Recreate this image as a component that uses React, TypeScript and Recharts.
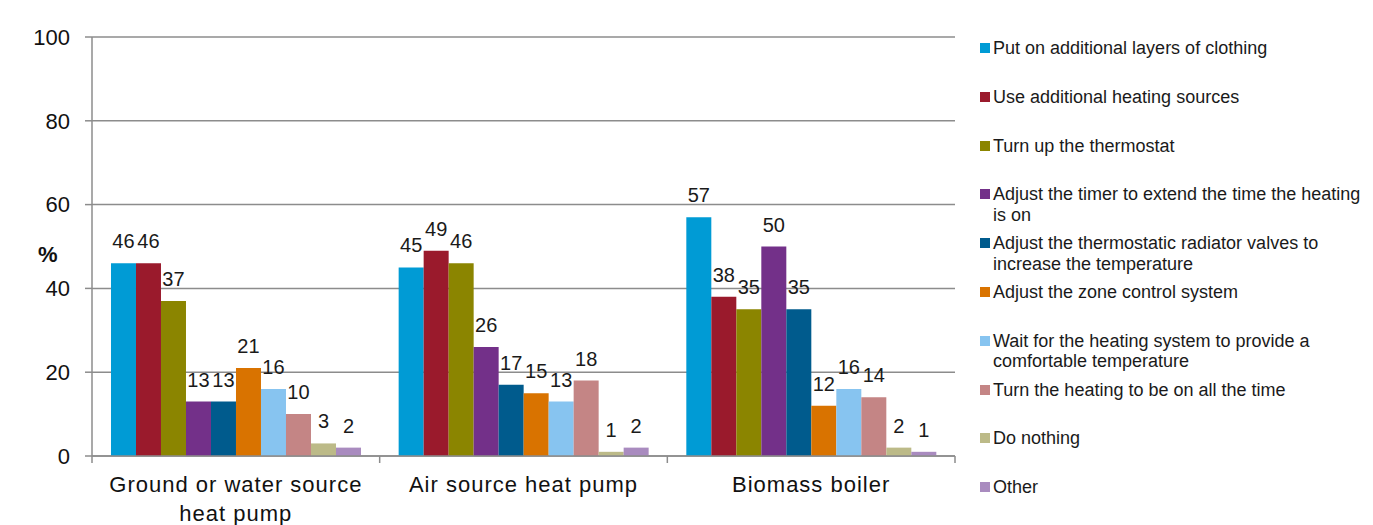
import React from 'react';
import {
  BarChart,
  Bar,
  XAxis,
  YAxis,
  CartesianGrid,
  LabelList,
} from 'recharts';

const categories = ['Ground or water source heat pump', 'Air source heat pump', 'Biomass boiler'];

const seriesNames = [
  'Put on additional layers of clothing',
  'Use additional heating sources',
  'Turn up the thermostat',
  'Adjust the timer to extend the time the heating is on',
  'Adjust the thermostatic radiator valves to increase the temperature',
  'Adjust the zone control system',
  'Wait for the heating system to provide a comfortable temperature',
  'Turn the heating to be on all the time',
  'Do nothing',
  'Other',
];

// one array per category, in series order
const groundValues = [46, 46, 37, 13, 13, 21, 16, 10, 3, 2];
const airValues = [45, 49, 46, 26, 17, 15, 13, 18, 1, 2];
const biomassValues = [57, 38, 35, 50, 35, 12, 16, 14, 2, 1];

const yTicks = [0, 20, 40, 60, 80, 100];

const colors = [
  '#009bd5',
  '#9a1a2c',
  '#8b8500',
  '#733089',
  '#005b8d',
  '#d97300',
  '#87c4f0',
  '#c48585',
  '#bcba88',
  '#a98bbf',
];

const FONT = '"Liberation Sans", Arial, sans-serif';
const GRID = '#8c8c8c';

const valueRows = [groundValues, airValues, biomassValues];
const data = categories.map((name, i) => {
  const row: Record<string, string | number> = { name };
  seriesNames.forEach((s, j) => {
    row[`s${j}`] = valueRows[i][j];
  });
  return row;
});

// simple word wrap by character budget
const wrapWords = (text: string, maxChars: number) => {
  const lines: string[] = [];
  let cur = '';
  text.split(' ').forEach((w) => {
    const next = cur ? `${cur} ${w}` : w;
    if (next.length > maxChars && cur) {
      lines.push(cur);
      cur = w;
    } else {
      cur = next;
    }
  });
  if (cur) lines.push(cur);
  return lines;
};

const CategoryTick = (props: any) => {
  const { x, y, payload, index, visibleTicksCount } = props;
  const half = payload.offset ?? 0;
  const isLast = index === visibleTicksCount - 1;
  const lines = wrapWords(String(payload.value), 24);
  return (
    <g>
      <line x1={x - half} x2={x - half} y1={y} y2={y + 7} stroke={GRID} strokeWidth={1.5} />
      {isLast && (
        <line x1={x + half} x2={x + half} y1={y} y2={y + 7} stroke={GRID} strokeWidth={1.5} />
      )}
      <text
        x={x}
        y={y + 36}
        textAnchor="middle"
        fill="#111"
        style={{ fontSize: 22, letterSpacing: 1, fontFamily: FONT }}
      >
        {lines.map((l, k) => (
          <tspan key={k} x={x} dy={k === 0 ? 0 : 29}>
            {l}
          </tspan>
        ))}
      </text>
    </g>
  );
};

const LegendBox = () => (
  <div
    style={{
      position: 'absolute',
      left: 980,
      top: 38,
      width: 390,
      fontFamily: FONT,
      fontSize: 18,
      color: '#1a1a1a',
    }}
  >
    {seriesNames.map((name, i) => (
      <div key={name} style={{ display: 'flex', height: 48.8 }}>
        <div
          style={{
            width: 10,
            height: 10,
            marginTop: 5,
            marginRight: 3,
            background: colors[i],
            flex: 'none',
          }}
        />
        <div style={{ width: 375, lineHeight: '20.5px' }}>{name}</div>
      </div>
    ))}
  </div>
);

export default function App() {
  return (
    <div
      style={{
        position: 'absolute',
        left: 0,
        top: 0,
        width: 1373,
        height: 525,
        background: '#fff',
      }}
    >
      <BarChart
        width={1373}
        height={525}
        data={data}
        margin={{ top: 37, right: 418, bottom: 9, left: 30 }}
        barCategoryGap="6.6%"
        barGap={0}
      >
        <CartesianGrid vertical={false} stroke={GRID} strokeWidth={1.5} />
        <XAxis
          dataKey="name"
          height={60}
          axisLine={{ stroke: GRID, strokeWidth: 1.5 }}
          tickLine={false}
          tickSize={0}
          tickMargin={0}
          interval={0}
          tick={<CategoryTick />}
        />
        <YAxis
          width={62}
          domain={[0, 100]}
          ticks={yTicks}
          interval={0}
          axisLine={{ stroke: GRID, strokeWidth: 1.5 }}
          tickLine={{ stroke: GRID, strokeWidth: 1.5 }}
          tickSize={7}
          tickMargin={15}
          tick={{ fontSize: 22, fill: '#111', fontFamily: FONT }}
          label={{
            value: '%',
            position: 'insideLeft',
            offset: 8,
            dy: 8,
            style: { fontSize: 22, fontWeight: 'bold', fill: '#111', fontFamily: FONT },
          }}
        />
        {seriesNames.map((name, j) => (
          <Bar key={name} dataKey={`s${j}`} name={name} fill={colors[j]} isAnimationActive={false}>
            <LabelList
              dataKey={`s${j}`}
              position="top"
              offset={15}
              style={{ fontSize: 20, fill: '#1a1a1a', fontFamily: FONT }}
            />
          </Bar>
        ))}
      </BarChart>
      <LegendBox />
    </div>
  );
}
